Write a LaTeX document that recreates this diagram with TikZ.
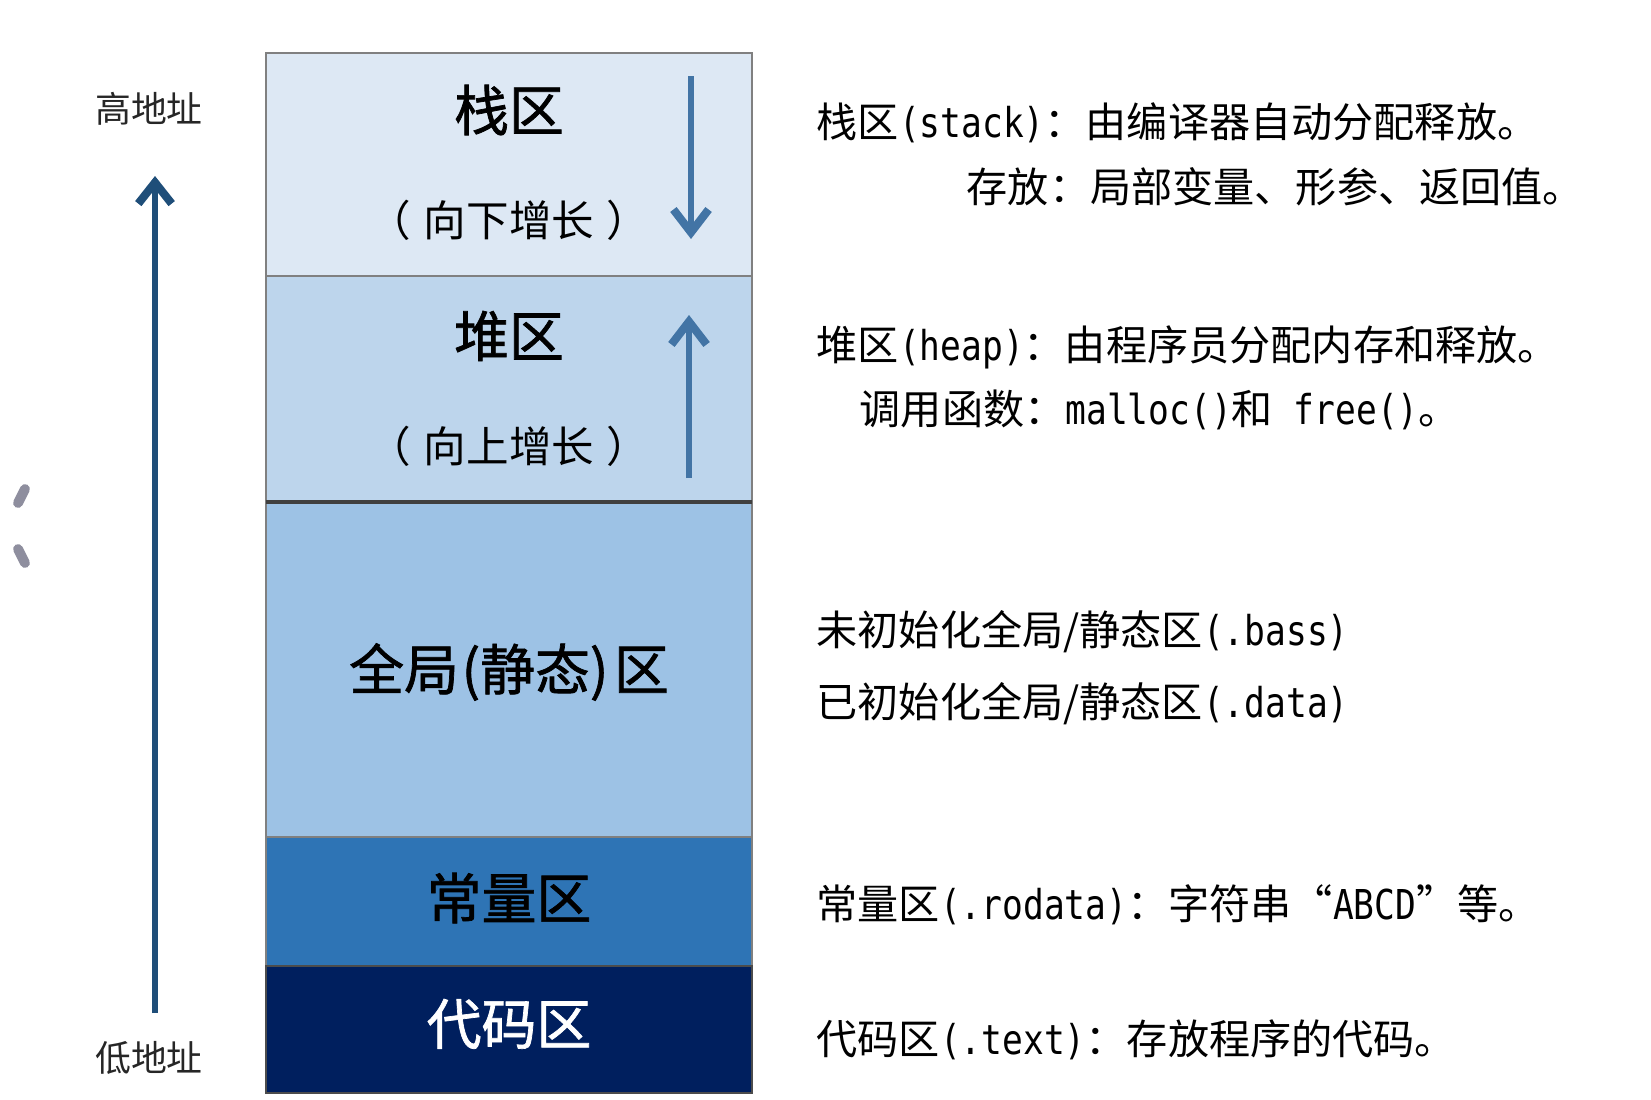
\documentclass[tikz,border=0pt]{standalone}
\usepackage{fontspec}
\setmainfont{Noto Sans CJK SC}
\newfontfamily\cjk{Noto Sans CJK SC}
\newfontfamily\cjktitle[FakeBold=1.3]{Noto Sans CJK SC}
\newfontfamily\lat[FakeStretch=0.84]{DejaVu Sans Mono}
\usetikzlibrary{arrows.meta}
\definecolor{cStack}{HTML}{DDE8F4}
\definecolor{cHeap}{HTML}{BDD5EC}
\definecolor{cGlobal}{HTML}{9DC2E5}
\definecolor{cConst}{HTML}{2E74B5}
\definecolor{cCode}{HTML}{001F5E}
\definecolor{cArrIn}{HTML}{4274A5}
\definecolor{cArrOut}{HTML}{1F4E79}
\definecolor{cBorder}{HTML}{808080}
\definecolor{cMark}{HTML}{8E8E9E}
\newcommand{\lt}[1]{{\lat #1}}
\tikzset{
  region/.style={draw=cBorder, line width=0.6pt, minimum width=4.86cm, inner sep=0pt, outer sep=0pt},
  title/.style={font=\cjktitle\fontsize{15.6}{18}\selectfont, inner sep=0pt},
  subtitle/.style={font=\cjk\fontsize{12.1}{14}\selectfont, inner sep=0pt},
  desc/.style={font=\cjk\fontsize{11.7}{14}\selectfont, anchor=west, inner sep=0pt},
  addr/.style={font=\cjk\fontsize{10.2}{12}\selectfont, inner sep=0pt, text=black!85},
  growarrow/.style={draw=cArrIn, line width=1.5pt, -{Straight Barb[length=6.5pt,width=10pt,line width=2.3pt]}},
  addrarrow/.style={draw=cArrOut, line width=1.7pt, -{Straight Barb[length=6pt,width=9.5pt,line width=2.3pt]}}
}
\begin{document}
\begin{tikzpicture}[x=0.01cm, y=-0.01cm]
\useasboundingbox (0,0) rectangle (1651,1100);
% memory regions
\node[region, fill=cStack, minimum height=2.23cm] (stack) at (509,164.5) {};
\node[region, fill=cHeap, minimum height=2.26cm] (heap) at (509,389) {};
\node[region, fill=cGlobal, minimum height=3.35cm] (global) at (509,669.5) {};
\node[region, fill=cConst, minimum height=1.29cm] (const) at (509,901.5) {};
\node[region, fill=cCode, draw=black!70, minimum height=1.27cm] (code) at (509,1029.5) {};
\draw[black!75, line width=1pt] (heap.south west) -- (heap.south east);
% region labels
\node[title] (stackT) at (509,110) {栈区};
\node[subtitle] (stackS) at (509,220) {（\hspace{0.3em}向下增长\hspace{0.3em}）};
\node[title] (heapT) at (509,336) {堆区};
\node[subtitle] (heapS) at (509,446) {（\hspace{0.3em}向上增长\hspace{0.3em}）};
\node[title] (globalT) at (509,672) {全局\hspace{0.05em}(静态)\hspace{0.1em}区};
\node[title] (constT) at (509,898) {常量区};
\node[title, text=white] (codeT) at (509,1024) {代码区};
% growth arrows
\coordinate (sA) at (691,76);
\coordinate (sB) at (691,239);
\coordinate (hA) at (689,478);
\coordinate (hB) at (689,315);
\draw[growarrow] (sA) -- (sB);
\draw[growarrow] (hA) -- (hB);
% address arrow
\node[addr] (high) at (149,109) {高地址};
\node[addr] (low) at (149,1058) {低地址};
\coordinate (aA) at (155,1013);
\coordinate (aB) at (155,176);
\draw[addrarrow] (aA) -- (aB);
% edge marks
\draw[cMark, line width=2.8pt, line cap=round] (18,503) -- (25,489);
\draw[cMark, line width=2.8pt, line cap=round] (18,549) -- (25,563);
% descriptions
\node[desc] (d1) at (816,123) {栈区\lt{(stack)}：由编译器自动分配释放。};
\node[desc] (d2) at (966,187) {存放：局部变量、形参、返回值。};
\node[desc] (d3) at (816,347) {堆区\lt{(heap)}：由程序员分配内存和释放。};
\node[desc] (d4) at (859,410) {调用函数：\lt{malloc()}和\lt{ free()}。};
\node[desc] (d5) at (816,632) {未初始化全局/静态区\lt{(.bass)}};
\node[desc] (d6) at (816,704) {已初始化全局/静态区\lt{(.data)}};
\node[desc] (d7) at (816,905) {常量区\lt{(.rodata)}：字符串“\lt{ABCD}”等。};
\node[desc] (d8) at (816,1040) {代码区\lt{(.text)}：存放程序的代码。};
\end{tikzpicture}
\end{document}
